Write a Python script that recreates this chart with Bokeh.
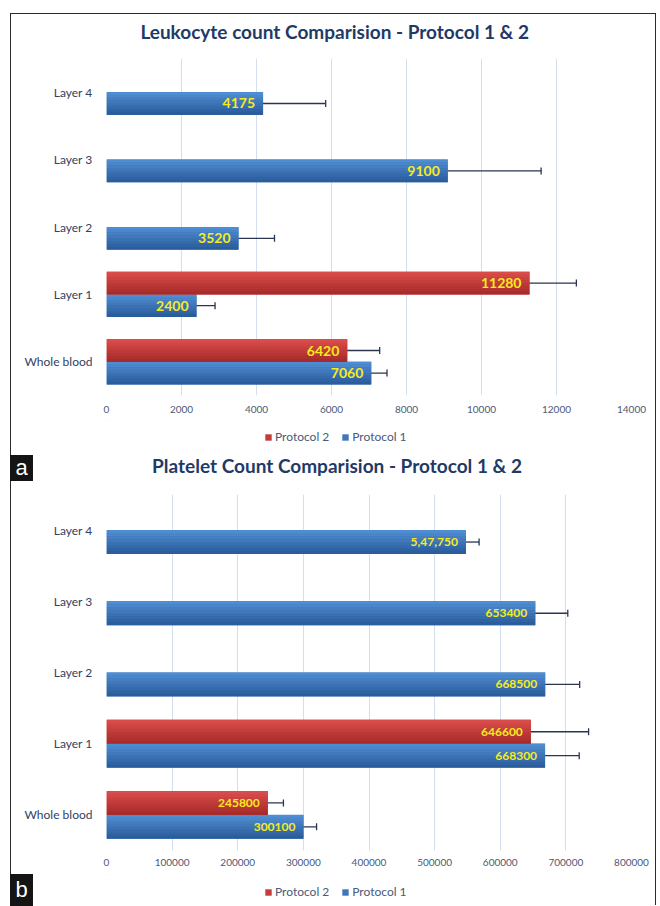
from bokeh.plotting import figure
from bokeh.models import (ColumnDataSource, FactorRange, Range1d, FixedTicker,
                          BasicTickFormatter, Whisker, TeeHead, LabelSet, Legend,
                          LegendItem, Label, Div)
from bokeh.transform import dodge
from bokeh.layouts import column
from bokeh.embed import file_html
from bokeh.resources import INLINE
from bokeh.core.properties import value

# ---------------------------------------------------------------- data
categories = ["Whole blood", "Layer 1", "Layer 2", "Layer 3", "Layer 4"]
series_names = ["Protocol 2", "Protocol 1"]

# (a) leukocyte counts
leuko_title = "Leukocyte count Comparision -  Protocol 1 & 2"
leuko_p1 = [7060, 2400, 3520, 9100, 4175]
leuko_p1_err = [420, 495, 960, 2490, 1670]
leuko_p1_text = ["7060", "2400", "3520", "9100", "4175"]
leuko_p2_cats = ["Whole blood", "Layer 1"]
leuko_p2 = [6420, 11280]
leuko_p2_err = [865, 1250]
leuko_p2_text = ["6420", "11280"]
leuko_ticks = [0, 2000, 4000, 6000, 8000, 10000, 12000, 14000]

# (b) platelet counts
plt_title = "Platelet Count Comparision - Protocol 1 & 2"
plt_p1 = [300100, 668300, 668500, 653400, 547750]
plt_p1_err = [20000, 52000, 52500, 49500, 20000]
plt_p1_text = ["300100", "668300", "668500", "653400", "5,47,750"]
plt_p2_cats = ["Whole blood", "Layer 1"]
plt_p2 = [245800, 646600]
plt_p2_err = [23800, 88000]
plt_p2_text = ["245800", "646600"]
plt_ticks = [0, 100000, 200000, 300000, 400000, 500000, 600000, 700000, 800000]

# ---------------------------------------------------------------- style
FONT = "Lato"
TITLE_COLOR = "#1F3A66"
AXIS_TEXT = "#4A5A78"
CAT_TEXT = "#33415F"
GRID = "#D3DFEE"
ERR_COLOR = "#2A3550"
LABEL_COLOR = "#F7EB1E"
BLUE = ("#4F8DD2", "#2B5C9B")
RED = ("#DA4C4A", "#A72B2B")
BAR_H = 0.335
N_STRIPS = 8
W = 644
LEFT, RIGHT = 95, 24          # side borders shared by every band
X0, Y0 = 11.5, 14.5           # page offset of the content box


def blend(c1, c2, t):
    a = [int(c1[i:i + 2], 16) for i in (1, 3, 5)]
    b = [int(c2[i:i + 2], 16) for i in (1, 3, 5)]
    return "#%02x%02x%02x" % tuple(round(x + (y - x) * t) for x, y in zip(a, b))


def add_series(p, cats, vals, errs, texts, offset, colors, label_size):
    src = ColumnDataSource(dict(
        cat=cats, val=vals,
        lower=[v - e for v, e in zip(vals, errs)],
        upper=[v + e for v, e in zip(vals, errs)],
        text=texts))
    ypos = dodge("cat", offset, range=p.y_range)
    p.hbar(y=ypos, left=0, right="val", height=BAR_H, source=src,
           fill_color=blend(*colors, 0.5), line_color=None)
    # vertical shading of each bar, light on top to dark at the bottom
    h = BAR_H / N_STRIPS
    for i in range(N_STRIPS):
        yo = offset + BAR_H / 2 - h * (i + 0.5)
        p.hbar(y=dodge("cat", yo, range=p.y_range), left=0, right="val",
               height=h * 1.08, source=src,
               fill_color=blend(*colors, i / (N_STRIPS - 1)), line_color=None)
    head = dict(size=7, line_color=ERR_COLOR, line_width=1.3)
    p.add_layout(Whisker(base=ypos, lower="lower", upper="upper", dimension="width",
                         source=src, line_color=ERR_COLOR, line_width=1.3,
                         upper_head=TeeHead(**head), lower_head=TeeHead(**head)))
    p.add_layout(LabelSet(x="val", y=ypos, text="text", source=src,
                          text_align="right", text_baseline="middle", x_offset=-8,
                          text_color=LABEL_COLOR, text_font=value(FONT),
                          text_font_style="bold", text_font_size=label_size))


def make_panel(xmax, ticks, height, top, bottom, tick_standoff):
    p = figure(width=W, height=height,
               x_range=Range1d(0, xmax), y_range=FactorRange(*categories),
               min_border_left=LEFT, min_border_right=RIGHT,
               min_border_top=top, min_border_bottom=bottom,
               output_backend="svg", toolbar_location=None)
    p.outline_line_color = None
    p.background_fill_color = "white"
    p.border_fill_color = "white"

    p.xaxis.ticker = FixedTicker(ticks=ticks)
    p.xaxis.formatter = BasicTickFormatter(use_scientific=False)
    p.xaxis.axis_line_color = None
    p.xaxis.major_tick_line_color = None
    p.xaxis.major_tick_out = 0
    p.xaxis.minor_tick_line_color = None
    p.xaxis.minor_tick_out = 0
    p.xaxis.major_label_standoff = tick_standoff
    p.xaxis.major_label_text_font = FONT
    p.xaxis.major_label_text_font_size = "10px"
    p.xaxis.major_label_text_color = AXIS_TEXT

    p.yaxis.axis_line_color = None
    p.yaxis.major_tick_line_color = None
    p.yaxis.major_tick_out = 0
    p.yaxis.major_label_standoff = 14
    p.yaxis.major_label_text_font = FONT
    p.yaxis.major_label_text_font_size = "12px"
    p.yaxis.major_label_text_color = CAT_TEXT

    p.ygrid.grid_line_color = None
    p.xgrid.grid_line_color = GRID
    p.xgrid.grid_line_width = 1
    p.xgrid.ticker = FixedTicker(ticks=ticks)
    return p


def make_strip(top, height):
    # plain band for titles and legends, addressed in page pixels
    s = figure(width=W, height=height,
               x_range=Range1d(X0 + LEFT, X0 + W - RIGHT),
               y_range=Range1d(top + height, top),
               min_border_left=LEFT, min_border_right=RIGHT,
               min_border_top=0, min_border_bottom=0,
               x_axis_type=None, y_axis_type=None,
               output_backend="svg", toolbar_location=None)
    s.outline_line_color = None
    s.background_fill_color = "white"
    s.border_fill_color = "white"
    s.grid.visible = False
    return s


def add_title(s, text, y):
    s.add_layout(Label(x=337, y=y, text=text, text_align="center",
                       text_baseline="middle", text_font=FONT, text_font_size="19px",
                       text_font_style="bold", text_color=TITLE_COLOR))


def add_legend(s, loc):
    items = []
    for name, colors in zip(series_names, (RED, BLUE)):
        # zero-length bar, only carries the swatch colour for the legend
        src = ColumnDataSource(dict(cat=[0], val=[0]))
        r = s.hbar(y="cat", left="val", right="val", height=1, source=src,
                   fill_color=blend(*colors, 0.45), line_color=None)
        items.append(LegendItem(label=name, renderers=[r]))
    s.add_layout(Legend(items=items, orientation="horizontal", location=loc,
                        label_text_font=FONT, label_text_font_size="12px",
                        label_text_color=AXIS_TEXT, glyph_width=8, glyph_height=8,
                        label_standoff=3, spacing=12, padding=2, margin=0,
                        border_line_color=None, background_fill_alpha=0))


# ---------------------------------------------------------------- title band a
top_strip = make_strip(14.5, 36)
add_title(top_strip, leuko_title, 31.5)

# ---------------------------------------------------------------- panel a
pa = make_panel(14000, leuko_ticks, 370, 8, 25, 10)
add_series(pa, categories, leuko_p1, leuko_p1_err, leuko_p1_text,
           -BAR_H / 2, BLUE, "14px")
add_series(pa, leuko_p2_cats, leuko_p2, leuko_p2_err, leuko_p2_text,
           BAR_H / 2, RED, "14px")

# ---------------------------------------------------------------- legend a, title b
mid_strip = make_strip(420.5, 64)
add_legend(mid_strip, (158, 40))
add_title(mid_strip, plt_title, 465)

# ---------------------------------------------------------------- panel b
pb = make_panel(800000, plt_ticks, 390, 10, 24, 8)
add_series(pb, categories, plt_p1, plt_p1_err, plt_p1_text,
           -BAR_H / 2, BLUE, "12px")
add_series(pb, plt_p2_cats, plt_p2, plt_p2_err, plt_p2_text,
           BAR_H / 2, RED, "12px")

# ---------------------------------------------------------------- legend b
bottom_strip = make_strip(874.5, 31)
add_legend(bottom_strip, (158, 6))

layout = column(top_strip, pa, mid_strip, pb, bottom_strip, margin=(13, 0, 0, 10),
                styles={"border-top": "1.5px solid #2b2b2b",
                        "border-left": "1.5px solid #2b2b2b",
                        "border-right": "1.5px solid #2b2b2b"})


# panel tags: white letters on black squares at the left edge
def tag(letter, top, h):
    return Div(text=("<span style='font-family:\"Liberation Sans\";font-size:22px;"
                     "color:white;line-height:%dpx'>%s</span>" % (h, letter)),
               width=23, height=h, margin=0,
               styles={"position": "absolute", "left": "10px", "top": "%dpx" % top,
                       "width": "23px", "height": "%dpx" % h,
                       "background-color": "#141414", "text-align": "center",
                       "overflow": "hidden"})


with open("out.html", "w") as f:
    f.write(file_html([layout, tag("a", 455, 26), tag("b", 874, 32)], INLINE))
